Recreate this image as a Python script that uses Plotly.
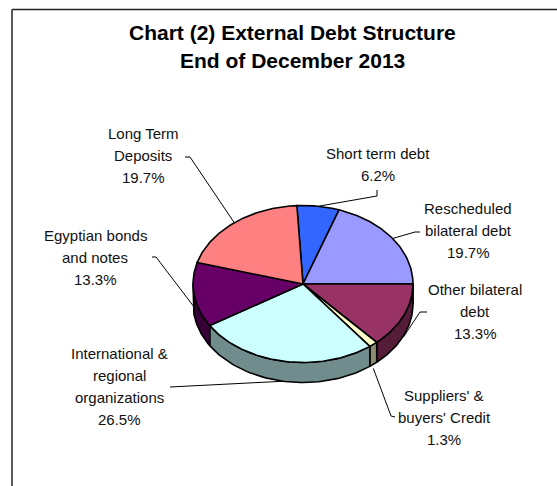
import numpy as np
import plotly.graph_objects as go

# ---- data -------------------------------------------------------------
categories = [
    "Short term debt",
    "Rescheduled bilateral debt",
    "Other bilateral debt",
    "Suppliers' & buyers' Credit",
    "International & regional organizations",
    "Egyptian bonds and notes",
    "Long Term Deposits",
]
shares = [6.2, 19.7, 13.3, 1.3, 26.5, 13.3, 19.7]
label_lines = [
    ["Short term debt"],
    ["Rescheduled", "bilateral debt"],
    ["Other bilateral", "debt"],
    ["Suppliers' &", "buyers' Credit"],
    ["International &", "regional", "organizations"],
    ["Egyptian bonds", "and notes"],
    ["Long Term", "Deposits"],
]
title_lines = ["Chart (2) External Debt Structure", "End of December 2013"]

# ---- styling ----------------------------------------------------------
top_colors = ["#3366FF", "#9999FF", "#993366", "#FFFFCC", "#CCFFFF", "#660066", "#FF8080"]
SHADE = 0.55
FONT = "Liberation Sans, Arial, sans-serif"
W, H = 557, 486

# tilted-disc geometry (pixel units)
CX, CY = 303, 284
RX, RY = 110, 78.5
DEPTH = 20
START = -3.2  # degrees, clockwise from 12 o'clock

# label placement: centre x, first line centre y
label_pos = [(377.5, 153), (468, 208), (475, 289), (444, 395),
             (119.5, 353), (95, 235), (143, 133)]
LINE_PITCH = 22
# leader lines: label-side points, then a drop below the rim at the slice middle
leader_start = [
    [(377, 190), (377, 196)],
    [(420, 232), (415, 232)],
    [(427, 312), (420, 312)],
    [(395, 417), (391, 416)],
    [(170, 387)],
    [(152, 257), (156, 257)],
    [(185, 157), (190, 157)],
]
leader_drop = [0, 0, 21, 24, 20, 12, 0]


def shade(hex_color, k):
    h = hex_color.lstrip("#")
    r, g, b = (int(h[i:i + 2], 16) for i in (0, 2, 4))
    return "rgb({},{},{})".format(int(r * k), int(g * k), int(b * k))


def rim(theta_deg, drop=0.0):
    t = np.radians(theta_deg)
    return CX + RX * np.sin(t), CY - RY * np.cos(t) + drop


total = float(sum(shares))
edges = START + np.cumsum([0.0] + list(shares)) / total * 360.0

fig = go.Figure()

# leader lines (drawn first so the disc sits on top of their ends)
for i, pts in enumerate(leader_start):
    mid = 0.5 * (edges[i] + edges[i + 1])
    px, py = rim(mid, leader_drop[i])
    xs = [p[0] for p in pts] + [px]
    ys = [p[1] for p in pts] + [py]
    fig.add_trace(go.Scatter(x=xs, y=ys, mode="lines",
                             line=dict(color="black", width=1),
                             hoverinfo="skip", showlegend=False))

# side walls on the front half of the disc
for i, name in enumerate(categories):
    lo, hi = max(edges[i], 90.0), min(edges[i + 1], 270.0)
    if hi <= lo:
        continue
    th = np.linspace(lo, hi, 60)
    tx, ty = rim(th)
    bx, by = rim(th[::-1], DEPTH)
    fig.add_trace(go.Scatter(
        x=np.concatenate([tx, bx, tx[:1]]), y=np.concatenate([ty, by, ty[:1]]),
        mode="lines", fill="toself", fillcolor=shade(top_colors[i], SHADE),
        line=dict(color="black", width=1.6), hoverinfo="skip", showlegend=False))

# top faces
for i, name in enumerate(categories):
    th = np.linspace(edges[i], edges[i + 1], max(8, int(shares[i] * 4)))
    ax, ay = rim(th)
    fig.add_trace(go.Scatter(
        x=np.concatenate([[CX], ax, [CX]]), y=np.concatenate([[CY], ay, [CY]]),
        mode="lines", fill="toself", fillcolor=top_colors[i],
        line=dict(color="black", width=1.6), name=name,
        hovertemplate=name + ": %{customdata}%<extra></extra>",
        customdata=[shares[i]] * (len(th) + 2), showlegend=False))

annotations = []
for i, lines in enumerate(label_lines):
    x0, y0 = label_pos[i]
    for j, txt in enumerate(lines + ["{:.1f}%".format(shares[i])]):
        annotations.append(dict(x=x0, y=y0 + j * LINE_PITCH, text=txt, showarrow=False,
                                xanchor="center", yanchor="middle",
                                font=dict(family=FONT, size=15, color="#111111")))
for j, txt in enumerate(title_lines):
    annotations.append(dict(x=292, y=32 + j * 28, text="<b>" + txt + "</b>", showarrow=False,
                            xanchor="center", yanchor="middle",
                            font=dict(family=FONT, size=21, color="black")))

frame = [
    dict(type="line", x0=12, y0=9.5, x1=W, y1=9.5, line=dict(color="#222222", width=1.5)),
    dict(type="line", x0=12, y0=9.5, x1=12, y1=H, line=dict(color="#222222", width=1.5)),
]

fig.update_layout(
    width=W, height=H, margin=dict(l=0, r=0, t=0, b=0, pad=0),
    paper_bgcolor="white", plot_bgcolor="white",
    xaxis=dict(range=[0, W], visible=False, fixedrange=True),
    yaxis=dict(range=[H, 0], visible=False, fixedrange=True),
    annotations=annotations, shapes=frame, showlegend=False,
)

fig.write_html("out.html")
